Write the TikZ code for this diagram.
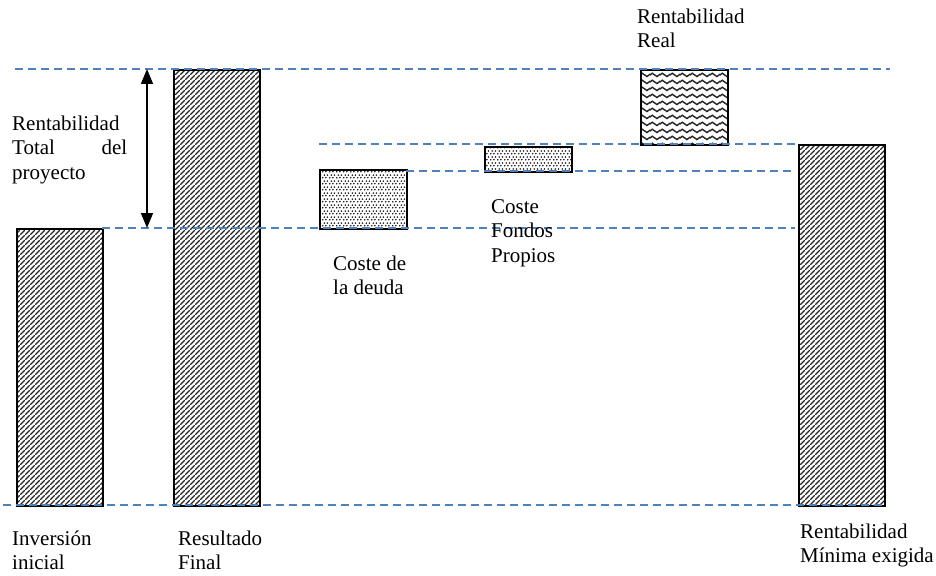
\documentclass[tikz,border=0pt]{standalone}
\usepackage{fontspec}
\setmainfont{Liberation Serif}
\usetikzlibrary{patterns.meta,arrows.meta}
\definecolor{guideblue}{RGB}{79,129,189}

% fill patterns for the bars
\tikzdeclarepattern{
  name=barhatch, type=uncolored,
  bottom left={(0pt,0pt)}, top right={(5pt,5pt)}, tile size={(5pt,5pt)},
  code={\draw[line width=1.5pt] (-1pt,-1pt) -- (6pt,6pt);}
}
\tikzdeclarepattern{
  name=costdots, type=uncolored,
  bottom left={(0pt,0pt)}, top right={(7pt,6pt)}, tile size={(7pt,6pt)},
  code={\fill (0.875pt,1.5pt) circle (1pt) (4.375pt,1.5pt) circle (1pt)
              (2.625pt,4.5pt) circle (1pt) (6.125pt,4.5pt) circle (1pt);}
}
\tikzdeclarepattern{
  name=wavelines, type=uncolored,
  bottom left={(0pt,0pt)}, top right={(10pt,7pt)}, tile size={(10pt,7pt)},
  code={\draw[line width=1.6pt] (-2.5pt,1.7pt) cos (0pt,3.5pt) sin (2.5pt,5.3pt)
              cos (5pt,3.5pt) sin (7.5pt,1.7pt) cos (10pt,3.5pt) sin (12.5pt,5.3pt);}
}

\begin{document}
\begin{tikzpicture}[x=1pt,y=-1pt,
  bar/.style={draw=black, line width=1.7pt, inner sep=0pt, anchor=north west},
  hatchbar/.style={bar, pattern={barhatch}, pattern color=black!85},
  dotbar/.style={bar, pattern={costdots}, pattern color=black!90},
  wavebar/.style={bar, pattern={wavelines}, pattern color=black!85},
  guide/.style={guideblue, line width=1.4pt, dash pattern=on 8pt off 5pt},
  lbl/.style={font=\fontsize{21}{24.5}\selectfont, inner sep=0pt, anchor=north west, align=left},
  bigtip/.style={line width=1.6pt, {Triangle[width=12pt,length=15pt]}-{Triangle[width=12pt,length=15pt]}}
]
\useasboundingbox (0,0) rectangle (936,575);

% bars
\node[hatchbar, minimum width=86pt, minimum height=277pt] (inv) at (16,228) {};
\node[hatchbar, minimum width=86pt, minimum height=436pt] (res) at (173,69) {};
\node[dotbar,   minimum width=87pt, minimum height=59pt]  (deuda) at (319,169) {};
\node[dotbar,   minimum width=87pt, minimum height=25pt]  (fondos) at (484,146) {};
\node[wavebar,  minimum width=87pt, minimum height=75pt]  (real) at (640,69) {};
\node[hatchbar, minimum width=86pt, minimum height=361pt] (minima) at (798,144) {};

% guide line ends
\coordinate (g1a) at (15,69);   \coordinate (g1b) at (890,69);
\coordinate (g2a) at (319,144); \coordinate (g2b) at (798,144);
\coordinate (g3a) at (406,171); \coordinate (g3b) at (793,171);
\coordinate (g4a) at (102,228); \coordinate (g4b) at (795,228);
\coordinate (g5a) at (3,505);   \coordinate (g5b) at (884,505);

\draw[guide] (g1a) -- (g1b);
\draw[guide] (g2a) -- (g2b);
\draw[guide] (g3a) -- (g3b);
\draw[guide] (g4a) -- (g4b);
\draw[guide] (g5a) -- (g5b);

% total return span
\coordinate (spanTop) at (147,69);
\coordinate (spanBot) at (147,228);
\draw[bigtip] (spanTop) -- (spanBot);

% labels
\node[lbl, text width=115pt] (tTotal) at (12,112.85) {\strut Rentabilidad\\ Total\hfill del\\ proyecto};
\node[lbl] (tReal) at (637,5.85) {\strut Rentabilidad\\ Real};
\node[lbl] (tDeuda) at (333,252.85) {\strut Coste de\\ la deuda};
\node[lbl] (tFondos) at (491,195.85) {\strut Coste\\ Fondos\\ Propios};
\node[lbl] (tInv) at (12,527.85) {\strut Inversión\\ inicial};
\node[lbl] (tRes) at (178,527.85) {\strut Resultado\\ Final};
\node[lbl] (tMin) at (800,520.85) {\strut Rentabilidad\\ Mínima exigida};
\end{tikzpicture}
\end{document}
